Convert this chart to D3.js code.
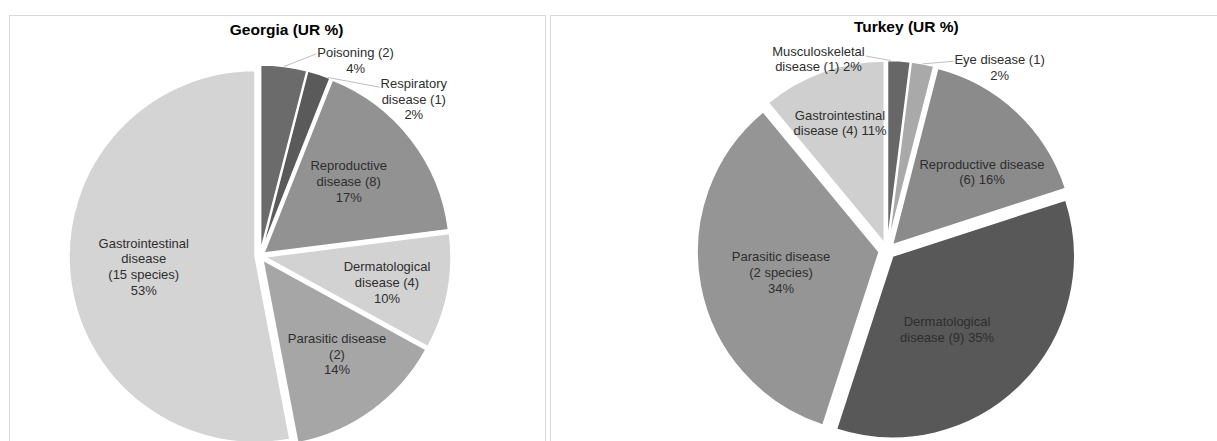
<!DOCTYPE html>
<html>
<head>
<meta charset="utf-8">
<script src="https://cdn.jsdelivr.net/npm/d3@7"></script>
<style>
  html, body { margin: 0; padding: 0; background: #fff; }
  svg { display: block; }
  text { font-family: "Liberation Sans", Arial, sans-serif; }
</style>
</head>
<body>
<svg id="chart" width="1217" height="441"></svg>
<script>
// ---------------- DATA ----------------
const georgiaTitle = "Georgia (UR %)";
const georgiaCategories = ["Poisoning", "Respiratory disease", "Reproductive disease", "Dermatological disease", "Parasitic disease", "Gastrointestinal disease"];
const georgiaValues = [4, 2, 17, 10, 14, 53];
const georgiaLabels = [
  ["Poisoning (2)", "4%"],
  ["Respiratory", "disease (1)", "2%"],
  ["Reproductive", "disease (8)", "17%"],
  ["Dermatological", "disease (4)", "10%"],
  ["Parasitic disease", "(2)", "14%"],
  ["Gastrointestinal", "disease", "(15 species)", "53%"]
];

const turkeyTitle = "Turkey (UR %)";
const turkeyCategories = ["Musculoskeletal disease", "Eye disease", "Reproductive disease", "Dermatological disease", "Parasitic disease", "Gastrointestinal disease"];
const turkeyValues = [2, 2, 16, 35, 34, 11];
const turkeyLabels = [
  ["Musculoskeletal", "disease (1) 2%"],
  ["Eye disease (1)", "2%"],
  ["Reproductive disease", "(6) 16%"],
  ["Dermatological", "disease (9) 35%"],
  ["Parasitic disease", "(2 species)", "34%"],
  ["Gastrointestinal", "disease (4) 11%"]
];

// ---------------- STYLE / LAYOUT ----------------
const georgiaColors = ["#6b6b6b", "#5a5a5a", "#929292", "#d2d2d2", "#a6a6a6", "#d4d4d4"];
const turkeyColors  = ["#676767", "#a9a9a9", "#8b8b8b", "#585858", "#959595", "#cfcfcf"];

const svg = d3.select("#chart");

// panel frames
svg.append("rect").attr("x", 9.5).attr("y", 15.5).attr("width", 536).attr("height", 500)
  .attr("fill", "none").attr("stroke", "#d9d9d9").attr("stroke-width", 1);
svg.append("rect").attr("x", 550.5).attr("y", 15.5).attr("width", 720).attr("height", 500)
  .attr("fill", "none").attr("stroke", "#d9d9d9").attr("stroke-width", 1);

const lineH = 15.8;

function drawPie(cfg) {
  const g = svg.append("g").attr("transform", `translate(${cfg.cx},${cfg.cy})`);
  const pie = d3.pie().sort(null).value(d => d.value).startAngle(0).endAngle(2 * Math.PI);
  const arc = d3.arc().innerRadius(0).outerRadius(cfg.r);
  const data = cfg.values.map((v, i) => ({ value: v, cat: cfg.categories[i], label: cfg.labels[i], color: cfg.colors[i], i }));
  const arcs = pie(data);

  const off = d => {
    const a = (d.startAngle + d.endAngle) / 2;
    return [cfg.explode * Math.sin(a), -cfg.explode * Math.cos(a)];
  };

  g.selectAll("path.slice").data(arcs).enter().append("path")
    .attr("class", "slice")
    .attr("d", arc)
    .attr("transform", d => { const o = off(d); return `translate(${o[0]},${o[1]})`; })
    .attr("fill", d => d.data.color)
    .attr("stroke", "#ffffff")
    .attr("stroke-width", 1.5)
    .attr("stroke-linejoin", "round");

  // labels
  arcs.forEach((d, k) => {
    const pos = cfg.labelPos[k];
    const lines = d.data.label;
    const y0 = pos[1] - (lines.length - 1) * lineH / 2;
    const t = g.append("text")
      .attr("text-anchor", "middle")
      .attr("font-size", 13)
      .attr("fill", "#2e2e2e");
    lines.forEach((ln, j) => {
      t.append("tspan").attr("x", pos[0]).attr("y", y0 + j * lineH).attr("dy", "0.35em").text(ln);
    });
    const lead = cfg.leaders[k];
    if (lead) {
      const a = d.startAngle + (d.endAngle - d.startAngle) * lead.frac;
      const o = off(d);
      const sx = o[0] + cfg.r * Math.sin(a), sy = o[1] - cfg.r * Math.cos(a);
      const first = t.select("tspan").node();
      const w = first.getComputedTextLength();
      const ex = lead.side === "left" ? pos[0] - w / 2 - 1 : pos[0] + w / 2 + 1;
      const ey = y0 + lead.dy;
      g.insert("line", "text")
        .attr("x1", sx).attr("y1", sy).attr("x2", ex).attr("y2", ey)
        .attr("stroke", "#bfbfbf").attr("stroke-width", 1);
    }
  });

  svg.append("text")
    .attr("x", cfg.titleX).attr("y", cfg.titleY).attr("dy", "0.35em")
    .attr("text-anchor", "middle")
    .attr("font-size", 15.5).attr("font-weight", "bold")
    .attr("fill", "#000")
    .text(cfg.title);
}

drawPie({
  title: georgiaTitle, titleX: 286.6, titleY: 29.3,
  cx: 260, cy: 256, r: 186, explode: 5,
  categories: georgiaCategories, values: georgiaValues, labels: georgiaLabels, colors: georgiaColors,
  labelPos: [[95.6, -195.7], [153.8, -157], [88.7, -74.4], [127, 26.6], [77, 98.1], [-116.3, 10.8]],
  leaders: [{ frac: 0.5, side: "left", dy: 1.5 }, { frac: 0.9, side: "left", dy: 4 }, null, null, null, null]
});

drawPie({
  title: turkeyTitle, titleX: 906.3, titleY: 26.7,
  cx: 887, cy: 250.5, r: 182, explode: 8,
  categories: turkeyCategories, values: turkeyValues, labels: turkeyLabels, colors: turkeyColors,
  labelPos: [[-68.5, -191.6], [112.6, -183.3], [95, -78.5], [60, 79], [-106, 22.1], [-47, -127.6]],
  leaders: [{ frac: 0.15, side: "right", dy: 5 }, { frac: 0.5, side: "left", dy: 2 }, null, null, null, null]
});
</script>
</body>
</html>
